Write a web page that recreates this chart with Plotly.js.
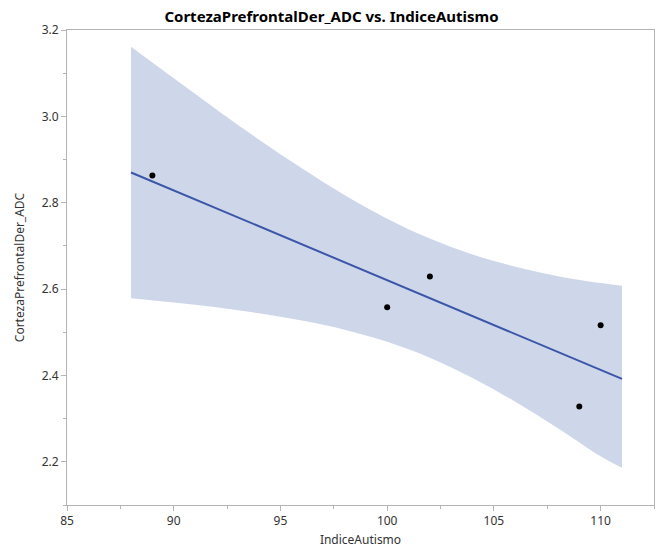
<!DOCTYPE html>
<html>
<head>
<meta charset="utf-8">
<script src="https://cdn.plot.ly/plotly-3.0.1.min.js"></script>
<style>
  html, body { margin: 0; padding: 0; background: #fff; }
  #chart { width: 663px; height: 556px; }
</style>
</head>
<body>
<div id="chart"></div>
<script>
// Observed points
const indiceAutismo = [89, 100, 102, 109, 110];
const cortezaADC    = [2.863, 2.558, 2.629, 2.328, 2.516];

// Fitted line
const fitX = [88, 111];
const fitY = [2.870, 2.392];

// Confidence band
const bandX     = [88, 90, 92, 94, 96, 98, 100, 102, 104, 106, 108, 110, 111];
const bandUpper = [3.161, 3.088, 3.016, 2.946, 2.880, 2.818, 2.763, 2.717, 2.680, 2.652, 2.630, 2.614, 2.608];
const bandLower = [2.579, 2.569, 2.558, 2.544, 2.527, 2.506, 2.478, 2.441, 2.394, 2.339, 2.278, 2.213, 2.186];

const xTicks = [85, 90, 95, 100, 105, 110];
const yTicks = [2.2, 2.4, 2.6, 2.8, 3.0, 3.2];

const FONT = "Noto Sans, Open Sans, sans-serif";
const bandColor = "rgb(206,214,234)";
const lineColor = "rgb(59,86,168)";
const axisColor = "rgb(180,180,180)";

const traces = [
  { x: bandX, y: bandLower, type: "scatter", mode: "lines",
    line: { width: 0, color: bandColor, shape: "spline" }, hoverinfo: "skip", showlegend: false },
  { x: bandX, y: bandUpper, type: "scatter", mode: "lines", fill: "tonexty",
    fillcolor: bandColor, line: { width: 0, color: bandColor, shape: "spline" },
    hoverinfo: "skip", showlegend: false },
  { x: fitX, y: fitY, type: "scatter", mode: "lines",
    line: { width: 2, color: lineColor }, showlegend: false },
  { x: indiceAutismo, y: cortezaADC, type: "scatter", mode: "markers",
    marker: { size: 6, color: "#000" }, showlegend: false }
];

const layout = {
  width: 663, height: 556,
  margin: { l: 67, r: 9, t: 30, b: 51 },
  paper_bgcolor: "#fff", plot_bgcolor: "#fff",
  font: { family: FONT, size: 12, color: "#333" },
  title: {
    text: "<b>CortezaPrefrontalDer_ADC vs. IndiceAutismo</b>",
    font: { family: FONT, size: 15, color: "#000" },
    xref: "container", x: 0.5, xanchor: "center",
    yref: "container", y: 1 - 17 / 556, yanchor: "middle"
  },
  xaxis: {
    range: [85, 112.5],
    tickvals: xTicks, ticktext: xTicks.map(String),
    showgrid: false, zeroline: false,
    showline: true, linecolor: axisColor, linewidth: 1, mirror: true,
    ticks: "outside", ticklen: 5, tickcolor: axisColor,
    minor: { dtick: 2.5, tick0: 85, ticks: "outside", ticklen: 3, tickcolor: axisColor, showgrid: false },
    tickfont: { size: 12, color: "#333" },
    title: { text: "IndiceAutismo", font: { size: 12, color: "#333" }, standoff: 7 }
  },
  yaxis: {
    range: [2.1, 3.2],
    tickvals: yTicks, ticktext: yTicks.map(v => v.toFixed(1)),
    showgrid: false, zeroline: false,
    showline: true, linecolor: axisColor, linewidth: 1, mirror: true,
    ticks: "outside", ticklen: 5, tickcolor: axisColor,
    minor: { dtick: 0.1, tick0: 2.1, ticks: "outside", ticklen: 3, tickcolor: axisColor, showgrid: false },
    tickfont: { size: 12, color: "#333" },
    title: { text: "CortezaPrefrontalDer_ADC", font: { size: 12, color: "#333" }, standoff: 14 }
  }
};

Plotly.newPlot("chart", traces, layout, { displayModeBar: false, staticPlot: true });
</script>
</body>
</html>
